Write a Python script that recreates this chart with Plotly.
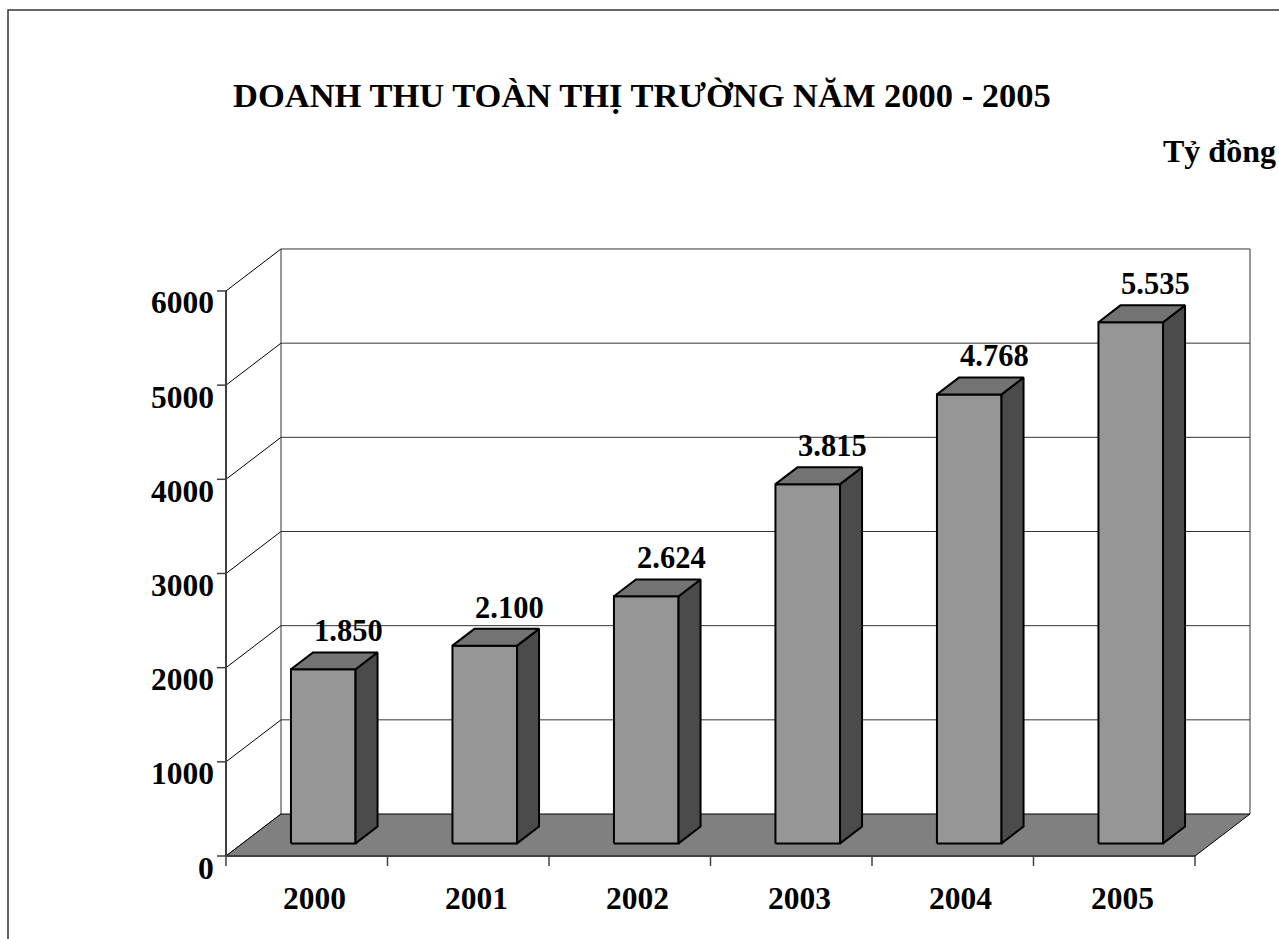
import plotly.graph_objects as go

# ---- data ----
years = ["2000", "2001", "2002", "2003", "2004", "2005"]
revenue = [1850, 2100, 2624, 3815, 4768, 5535]
y_ticks = [0, 1000, 2000, 3000, 4000, 5000, 6000]
title_text = "DOANH THU TOÀN THỊ TRƯỜNG NĂM 2000 - 2005"
unit_text = "Tỷ đồng"

# ---- geometry (pixel scale of the pseudo-3D plot) ----
W, H = 1279, 939
X0_PX, SX = 226, 161.5          # pixel of category 0 edge, px per category
Y0_PX, SY = 856, 94.17 / 1000   # pixel of value 0, px per value unit
DX = 55 / SX                    # depth offset in category units
DY = 42 / SY                    # depth offset in value units
BAR_W = 0.4
BAR_D0, BAR_D1 = 0.3, 0.7
YMAX = 6000
n = len(years)

FONT = "Liberation Serif"
C_FRONT, C_SIDE, C_TOP, C_FLOOR = "#969696", "#4b4b4b", "#737373", "#808080"

fig = go.Figure()

def line_trace(xs, ys, color="#000000", width=1):
    fig.add_trace(go.Scatter(x=xs, y=ys, mode="lines",
                             line=dict(color=color, width=width),
                             hoverinfo="skip", showlegend=False))

def poly(xs, ys, fill, width=2):
    fig.add_trace(go.Scatter(x=xs + [xs[0]], y=ys + [ys[0]], mode="lines",
                             fill="toself", fillcolor=fill,
                             line=dict(color="#000000", width=width),
                             hoverinfo="skip", showlegend=False))

# back wall gridlines
gx, gy = [], []
for v in y_ticks[1:]:
    gx += [DX, n + DX, None]
    gy += [v + DY, v + DY, None]
line_trace(gx, gy, "#333333", 1)
# side wall diagonals
sx_, sy_ = [], []
for v in y_ticks:
    sx_ += [0, DX, None]
    sy_ += [v, v + DY, None]
line_trace(sx_, sy_, "#000000", 1)
# back verticals
line_trace([DX, DX, None, n + DX, n + DX], [DY, YMAX + DY, None, DY, YMAX + DY], "#333333", 1)
# front value axis
line_trace([0, 0], [0, YMAX], "#404040", 2)
# value ticks
tx, ty = [], []
for v in y_ticks:
    tx += [-9 / SX, 0, None]
    ty += [v, v, None]
line_trace(tx, ty, "#404040", 1.5)

# floor
poly([0, n, n + DX, DX], [0, 0, DY, DY], C_FLOOR, 1)
# category axis + ticks
line_trace([0, n], [0, 0], "#404040", 2)
cx, cy = [], []
for i in range(n + 1):
    cx += [i, i, None]
    cy += [0, -10 / SY, None]
line_trace(cx, cy, "#404040", 1.5)

# bars
bdx, bdy = (BAR_D1 - BAR_D0) * DX, (BAR_D1 - BAR_D0) * DY
annotations = []
for i, v in enumerate(revenue):
    xl = i + 0.5 - BAR_W / 2 + BAR_D0 * DX
    xr = xl + BAR_W
    b = BAR_D0 * DY
    t = b + v
    poly([xl, xr, xr, xl], [b, b, t, t], C_FRONT)
    poly([xr, xr + bdx, xr + bdx, xr], [b, b + bdy, t + bdy, t], C_SIDE)
    poly([xl, xr, xr + bdx, xl + bdx], [t, t, t + bdy, t + bdy], C_TOP)
    annotations.append(dict(x=(xl + xr) / 2, y=t, xref="x", yref="y",
                            text=f"{v:,}".replace(",", "."), showarrow=False,
                            xanchor="center", yanchor="middle", xshift=25, yshift=38,
                            font=dict(family=FONT, size=30.5, color="#000000", weight="bold")))

for v in y_ticks:
    annotations.append(dict(x=0, y=v, xref="x", yref="y", text=str(v), showarrow=False,
                            xanchor="right", yanchor="middle", xshift=-10, yshift=-12,
                            font=dict(family=FONT, size=31.5, color="#000000", weight="bold")))
for i, yr in enumerate(years):
    annotations.append(dict(x=i + 0.5, y=0, xref="x", yref="y", text=yr, showarrow=False,
                            xanchor="center", yanchor="middle", xshift=8, yshift=-42,
                            font=dict(family=FONT, size=31.5, color="#000000", weight="bold")))

annotations.append(dict(x=642 / W, y=1 - 95 / H, xref="paper", yref="paper", text=title_text,
                        showarrow=False, xanchor="center", yanchor="middle",
                        font=dict(family=FONT, size=34.5, color="#000000", weight="bold")))
annotations.append(dict(x=1219 / W, y=1 - 151 / H, xref="paper", yref="paper", text=unit_text,
                        showarrow=False, xanchor="center", yanchor="middle",
                        font=dict(family=FONT, size=32, color="#000000", weight="bold")))

fig.update_layout(
    width=W, height=H,
    margin=dict(l=0, r=0, t=0, b=0),
    paper_bgcolor="#ffffff", plot_bgcolor="#ffffff",
    showlegend=False, hovermode=False,
    xaxis=dict(range=[-X0_PX / SX, (W - X0_PX) / SX], visible=False, fixedrange=True),
    yaxis=dict(range=[(Y0_PX - H) / SY, Y0_PX / SY], visible=False, fixedrange=True),
    annotations=annotations,
    shapes=[dict(type="rect", xref="paper", yref="paper",
                 x0=8 / W, x1=1.05, y0=-0.05, y1=1 - 10 / H,
                 line=dict(color="#333333", width=1.5))],
)

fig.write_html("out.html")
